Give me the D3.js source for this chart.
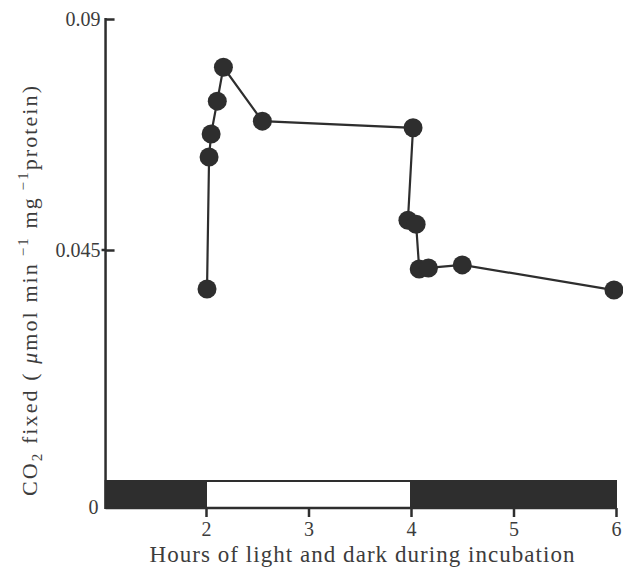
<!DOCTYPE html>
<html><head><meta charset="utf-8">
<script src="https://cdn.jsdelivr.net/npm/d3@7"></script>
<style>
html,body{margin:0;padding:0;background:#fff;}
text{font-family:"Liberation Serif","Times New Roman",serif;fill:#3c3c3c;}
</style></head>
<body>
<script>
// Data
const hours = [2.01, 2.03, 2.05, 2.11, 2.17, 2.55, 4.02, 3.97, 4.05, 4.08, 4.17, 4.50, 5.98];
const co2Fixed = [0.0374, 0.0631, 0.0676, 0.0740, 0.0806, 0.0701, 0.0688, 0.0508, 0.0500, 0.0413, 0.0415, 0.0421, 0.0372];
const xTicks = [2, 3, 4, 5, 6];
const yTicks = [0.045, 0.09];
const yTickLabels = ["0.045", "0.09"];
const periods = [ {start: 1.02, end: 2, phase: "dark"}, {start: 2, end: 4, phase: "light"}, {start: 4, end: 6, phase: "dark"} ];

const W = 623, H = 567;
const svg = d3.select("body").append("svg").attr("width", W).attr("height", H);

const x = d3.scaleLinear().domain([2, 6]).range([206, 616]);
const y = d3.scaleLinear().domain([0, 0.09]).range([481, 19]);
const axisY = 508;            // bottom of the light/dark bar = x axis line
const xLeft = x(1.02);
const ink = "#2e2e2e";

// light/dark bar
svg.append("g").selectAll("rect").data(periods).join("rect")
  .attr("x", d => x(d.start)).attr("width", d => x(d.end) - x(d.start))
  .attr("y", y(0)).attr("height", axisY - y(0))
  .attr("fill", d => d.phase === "dark" ? ink : "#fff")
  .attr("stroke", ink).attr("stroke-width", 2);

// x axis
const xAxis = svg.append("g").attr("transform", `translate(0,${axisY})`)
  .call(d3.axisBottom(x).tickValues(xTicks).tickSize(9).tickPadding(5).tickFormat(d3.format("d")));
xAxis.select(".domain").remove();
xAxis.selectAll("line").attr("stroke", ink).attr("stroke-width", 2.5);
xAxis.selectAll("text").attr("font-size", 20).attr("fill", "#3c3c3c").attr("font-family", "Liberation Serif");
svg.append("line").attr("x1", xLeft).attr("x2", x(6) + 1).attr("y1", axisY).attr("y2", axisY)
  .attr("stroke", ink).attr("stroke-width", 2.5);

// y axis
const yAxis = svg.append("g").attr("transform", `translate(${xLeft},0)`)
  .call(d3.axisRight(y).tickValues(yTicks).tickSize(9).tickFormat(""));
yAxis.select(".domain").remove();
yAxis.selectAll("line").attr("stroke", ink).attr("stroke-width", 2.5);
svg.append("line").attr("x1", xLeft).attr("x2", xLeft).attr("y1", y(0.09) - 1).attr("y2", axisY + 1)
  .attr("stroke", ink).attr("stroke-width", 2.5);
// small outer stub on middle tick
svg.append("line").attr("x1", xLeft - 4).attr("x2", xLeft).attr("y1", y(0.045)).attr("y2", y(0.045))
  .attr("stroke", ink).attr("stroke-width", 2.5);
svg.append("g").selectAll("text").data(yTicks).join("text")
  .attr("x", xLeft - 5).attr("y", d => y(d)).attr("dy", "0.35em")
  .attr("text-anchor", "end").attr("font-size", 20).text((d, i) => yTickLabels[i]);
svg.append("text").attr("x", xLeft - 7).attr("y", axisY).attr("dy", "0.3em")
  .attr("text-anchor", "end").attr("font-size", 20).text("0");

// x title
svg.append("text").attr("x", 362).attr("y", 562).attr("text-anchor", "middle")
  .attr("font-size", 23).attr("textLength", 425).attr("lengthAdjust", "spacing")
  .text("Hours of light and dark during incubation");

// y title
const yt = svg.append("text").attr("transform", "translate(37,291) rotate(-90)")
  .attr("text-anchor", "middle").attr("font-size", 22)
  .attr("textLength", 410).attr("lengthAdjust", "spacing");
yt.append("tspan").text("CO");
yt.append("tspan").attr("font-size", 15).attr("dy", 5).text("2");
yt.append("tspan").attr("dy", -5).text(" fixed ( ");
yt.append("tspan").attr("font-style", "italic").text("μ");
yt.append("tspan").text("mol min");
yt.append("tspan").attr("font-size", 15).attr("dy", -9).text(" −1");
yt.append("tspan").attr("dy", 9).text(" mg");
yt.append("tspan").attr("font-size", 15).attr("dy", -9).text(" −1");
yt.append("tspan").attr("dy", 9).text("protein)");

// series
const pts = hours.map((h, i) => [h, co2Fixed[i]]);
svg.append("path").datum(pts)
  .attr("d", d3.line().x(d => x(d[0])).y(d => y(d[1])))
  .attr("fill", "none").attr("stroke", ink).attr("stroke-width", 2.2);
svg.append("g").selectAll("circle").data(pts).join("circle")
  .attr("cx", d => x(d[0])).attr("cy", d => y(d[1])).attr("r", 9.5).attr("fill", ink);
</script>
</body></html>
